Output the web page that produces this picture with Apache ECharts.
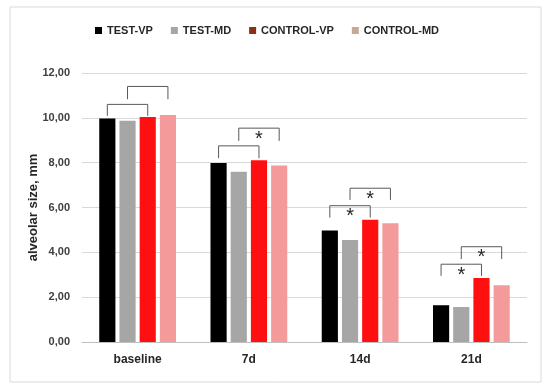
<!DOCTYPE html>
<html><head><meta charset="utf-8">
<script src="https://cdn.jsdelivr.net/npm/echarts@6/dist/echarts.min.js"></script>
<style>html,body{margin:0;padding:0;background:#fff}#c{width:550px;height:391px}</style>
</head><body><div id="c"></div>
<script>
var categories = ['baseline', '7d', '14d', '21d'];
var seriesNames = ['TEST-VP', 'TEST-MD', 'CONTROL-VP', 'CONTROL-MD'];
var testVP = [9.97, 7.98, 4.97, 1.64];
var testMD = [9.87, 7.60, 4.55, 1.56];
var controlVP = [10.04, 8.11, 5.45, 2.86];
var controlMD = [10.13, 7.87, 5.30, 2.53];
var yTicks = [0, 2, 4, 6, 8, 10, 12];
// brackets: [categoryIndex, fromBar, toBar, topValue, legBottomValue, star]
var brackets = [
  [0, 0, 2, 10.60, 10.09, 0],
  [0, 1, 3, 11.40, 10.83, 0],
  [1, 0, 2, 8.75, 8.20, 0],
  [1, 1, 3, 9.54, 8.97, 1],
  [2, 0, 2, 6.08, 5.55, 1],
  [2, 1, 3, 6.86, 6.34, 1],
  [3, 0, 2, 3.47, 2.95, 1],
  [3, 1, 3, 4.25, 3.70, 1]
];

var barColors = ['#000000', '#A6A6A6', '#FF1010', '#F59A9A'];
var legendColors = ['#000000', '#A6A6A6', '#8B3010', '#C9A898'];
var catGap = 0.31, barGap = 0.25, nBars = 4;
var font = 'Liberation Sans';

var chart = echarts.init(document.getElementById('c'));
var allData = [testVP, testMD, controlVP, controlMD];
var series = allData.map(function (d, i) {
  return {
    name: seriesNames[i], type: 'bar', data: d,
    barGap: (barGap * 100) + '%', barCategoryGap: (catGap * 100) + '%',
    itemStyle: { color: barColors[i] },
    emphasis: { disabled: true }
  };
});
series.push({
  type: 'custom', name: 'brackets', data: brackets, silent: true, z: 10,
  renderItem: function (params, api) {
    var cat = api.value(0);
    var band = api.size([1, 0])[0];
    var groupW = band * (1 - catGap);
    var bw = groupW / (nBars + (nBars - 1) * barGap);
    var cx = api.coord([cat, 0])[0];
    function bx(i) { return cx - groupW / 2 + bw / 2 + i * bw * (1 + barGap); }
    var x1 = bx(api.value(1)), x2 = bx(api.value(2));
    var yt = api.coord([cat, api.value(3)])[1];
    var yb = api.coord([cat, api.value(4)])[1];
    var children = [{
      type: 'polyline',
      shape: { points: [[x1, yb], [x1, yt], [x2, yt], [x2, yb]], smooth: 0 },
      style: { stroke: '#595959', lineWidth: 1, fill: null }
    }];
    if (api.value(5)) {
      children.push({
        type: 'text',
        style: { text: '*', x: (x1 + x2) / 2, y: yt + 1, align: 'center', verticalAlign: 'top',
          font: '20px ' + font, fill: '#262626' }
      });
    }
    return { type: 'group', children: children };
  }
});

chart.setOption({
  animation: false,
  graphic: [{ type: 'rect', shape: { x: 10, y: 7, width: 531, height: 375 },
    style: { fill: null, stroke: '#D9D9D9', lineWidth: 1 }, silent: true }],
  legend: {
    top: 20, left: 90, itemWidth: 7, itemHeight: 7, itemGap: 18,
    icon: 'rect',
    textStyle: { fontFamily: font, fontWeight: 'bold', fontSize: 11, color: '#262626' },
    data: seriesNames.map(function (n, i) { return { name: n, itemStyle: { color: legendColors[i] } }; })
  },
  grid: { left: 82, right: 23, top: 73, bottom: 49 },
  xAxis: {
    type: 'category', data: categories,
    axisLine: { lineStyle: { color: '#BFBFBF' } }, axisTick: { show: false },
    axisLabel: { fontFamily: font, fontWeight: 'bold', fontSize: 12, color: '#262626', margin: 12 }
  },
  yAxis: {
    type: 'value', min: yTicks[0], max: yTicks[yTicks.length - 1], interval: 2,
    name: 'alveolar size, mm', nameLocation: 'middle', nameGap: 42, nameMoveOverlap: false,
    nameTextStyle: { fontFamily: font, fontWeight: 'bold', fontSize: 13, color: '#262626' },
    axisLine: { show: false }, axisTick: { show: false },
    splitLine: { lineStyle: { color: '#D9D9D9' } },
    axisLabel: { fontFamily: font, fontWeight: 'bold', fontSize: 11, color: '#404040', margin: 12,
      formatter: function (v) { return v.toFixed(2).replace('.', ','); } }
  },
  series: series
});
</script></body></html>
